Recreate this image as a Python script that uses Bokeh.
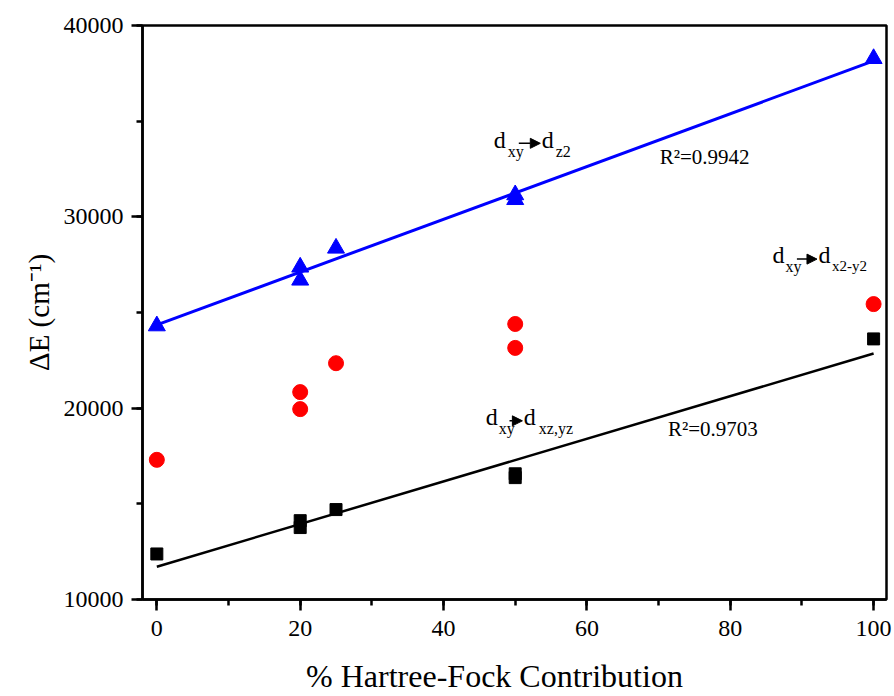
import numpy as np
from bokeh.plotting import figure
from bokeh.models import Range1d, Label, Arrow, NormalHead, SingleIntervalTicker
from bokeh.embed import file_html
from bokeh.resources import INLINE

# ---- data ----
hf = [0, 20, 20, 25, 50, 50, 100]
dz2 = [24300, 27370, 26690, 28360, 31150, 30900, 38270]
dx2y2 = [17300, 20840, 19950, 22350, 24400, 23150, 25440]
dxzyz = [12380, 14120, 13760, 14700, 16570, 16370, 23620]
fit_x = [0, 100]
r2_dz2 = "R\u00b2=0.9942"
r2_dxzyz = "R\u00b2=0.9703"

FONT = "Liberation Serif"

p = figure(width=894, height=696, output_backend="svg", toolbar_location=None,
           x_range=Range1d(-2, 101.8), y_range=Range1d(10000, 40000),
           min_border_left=142, min_border_right=8, min_border_top=25, min_border_bottom=96,
           background_fill_color="white", border_fill_color="white")
p.xgrid.visible = False
p.ygrid.visible = False
p.outline_line_color = "black"
p.outline_line_width = 2.5
p.outline_line_alpha = 1.0

p.xaxis.ticker = SingleIntervalTicker(interval=20, num_minor_ticks=2)
p.yaxis.ticker = SingleIntervalTicker(interval=10000, num_minor_ticks=2)
for ax in (p.xaxis[0], p.yaxis[0]):
    ax.axis_line_width = 2.5
    ax.axis_line_color = "black"
    ax.major_tick_line_width = 2.5
    ax.minor_tick_line_width = 2.5
    ax.major_tick_in = 0
    ax.major_tick_out = 11
    ax.minor_tick_in = 0
    ax.minor_tick_out = 6
    ax.major_label_text_font = FONT
    ax.major_label_text_font_size = "24px"
    ax.major_label_text_color = "black"
    ax.axis_label_text_font = FONT
    ax.axis_label_text_font_style = "normal"
    ax.axis_label_text_color = "black"

p.xaxis.major_label_standoff = 10
p.yaxis.major_label_standoff = 8
p.xaxis.axis_label = "% Hartree-Fock Contribution" + "\u00a0" * 5
p.yaxis.axis_label = "\u0394E (cm\u207b\u00b9)"
p.xaxis.axis_label_text_font_size = "32px"
p.yaxis.axis_label_text_font_size = "29px"
p.xaxis.axis_label_standoff = 19
p.yaxis.axis_label_standoff = 6

# fit lines
cz = np.polyfit(hf, dz2, 1)
cx = np.polyfit(hf, dxzyz, 1)
p.line(fit_x, np.polyval(cz, fit_x), line_color="#0000ff", line_width=3)
p.line(fit_x, np.polyval(cx, fit_x), line_color="black", line_width=2.5)

p.scatter(hf, dz2, marker="triangle", size=17, fill_color="#0000ff", line_color="#0000ff")
p.scatter(hf, dx2y2, marker="circle", size=15, fill_color="#ff0000", line_color="#ff0000")
p.scatter(hf, dxzyz, marker="square", size=12, fill_color="black", line_color="black")

DY = 420


def lab(x, y, t, size):
    p.add_layout(Label(x=x, y=y + DY, text=t, text_font=FONT, text_font_size=size,
                       text_color="black", text_align="left", text_baseline="alphabetic"))


def arrow(x0, x1, y):
    p.add_layout(Arrow(x_start=x0, y_start=y, x_end=x1, y_end=y, line_width=1.5,
                       line_color="black",
                       end=NormalHead(size=10, fill_color="black", line_color="black")))


# d_xy -> d_z2
lab(47.0, 33581, "d", "24px")
lab(48.95, 33007, "xy", "16px")
arrow(50.5, 53.5, 33842)
lab(53.7, 33581, "d", "24px")
lab(55.65, 33007, "z2", "16px")

# d_xy -> d_x2-y2
lab(85.9, 27581, "d", "24px")
lab(87.7, 27007, "xy", "16px")
arrow(89.3, 92.1, 27790)
lab(92.3, 27581, "d", "24px")
lab(94.2, 27007, "x2-y2", "15px")

# d_xy -> d_xz,yz
lab(45.9, 19130, "d", "24px")
lab(47.7, 18504, "xy", "16px")
arrow(49.2, 51.0, 19338)
lab(51.2, 19130, "d", "24px")
lab(53.3, 18504, "xz,yz", "16px")

lab(70.15, 32694, r2_dz2, "21px")
lab(71.3, 18504, r2_dxzyz, "21px")

open("out.html", "w").write(file_html(p, INLINE))
